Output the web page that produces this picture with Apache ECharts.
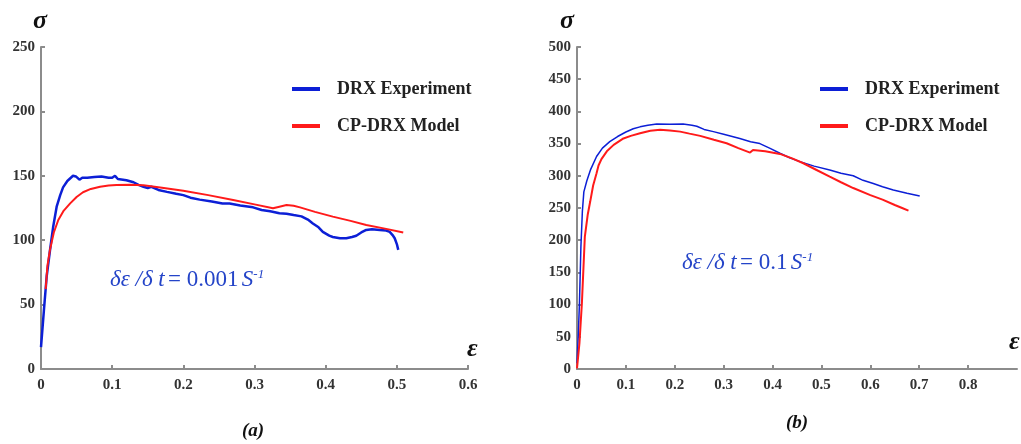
<!DOCTYPE html>
<html>
<head>
<meta charset="utf-8">
<script src="https://cdn.jsdelivr.net/npm/echarts@6/dist/echarts.min.js"></script>
<style>
  html, body { margin: 0; padding: 0; background: #fff; }
  #chart { width: 1021px; height: 444px; }
</style>
</head>
<body>
<div id="chart"></div>
<script>
// (a) strain rate 0.001 s-1 : [strain, stress]
var leftExp = [[0,17],[0.004,45],[0.008,72],[0.0126,92],[0.017,110],[0.022,126],[0.027,135],[0.031,141],[0.037,146],[0.045,150],[0.049,149.5],[0.054,147],[0.058,148.5],[0.065,148.5],[0.075,149],[0.085,149.5],[0.095,148.5],[0.1,148.5],[0.104,150],[0.108,147.5],[0.12,146.5],[0.13,145],[0.137,143],[0.144,141.5],[0.15,140.5],[0.155,141.5],[0.165,139],[0.177,137.5],[0.19,136],[0.2,135],[0.21,133],[0.223,131.5],[0.24,130],[0.255,128.5],[0.265,128.5],[0.28,127],[0.298,125.5],[0.31,123.5],[0.322,122.5],[0.335,121],[0.345,120.5],[0.355,119.5],[0.366,118.5],[0.375,116],[0.382,113],[0.39,110],[0.396,106.5],[0.405,103.5],[0.41,102.5],[0.42,101.5],[0.429,101.5],[0.437,102.5],[0.443,103.5],[0.45,106],[0.457,108],[0.465,108.5],[0.476,108],[0.485,107.5],[0.49,106.5],[0.494,104],[0.497,101.5],[0.5,97],[0.502,92.5]];
var leftModel = [[0.0066,62],[0.009,80],[0.0126,92.5],[0.018,106],[0.0243,115.7],[0.032,123],[0.041,128.6],[0.05,133.5],[0.059,137.2],[0.07,139.8],[0.083,141.5],[0.095,142.4],[0.106,142.8],[0.125,143],[0.144,142.6],[0.17,140.8],[0.2,138.4],[0.235,135],[0.27,131.2],[0.3,127.8],[0.326,124.8],[0.335,126],[0.345,127.3],[0.355,126.8],[0.364,125.5],[0.385,122],[0.41,118.3],[0.435,115],[0.457,111.8],[0.485,108.8],[0.509,105.9]];
// (b) strain rate 0.1 s-1
var rightExp = [[0,9],[0.003,60],[0.005,102],[0.008,190],[0.011,245],[0.014,275],[0.02,292],[0.028,310],[0.04,330],[0.052,343],[0.067,353],[0.083,361],[0.1,368],[0.115,373],[0.129,376],[0.145,378.5],[0.163,380.5],[0.19,380],[0.217,380.5],[0.235,378.5],[0.245,377],[0.26,372],[0.279,368.6],[0.3,364.5],[0.333,358],[0.355,353],[0.374,350],[0.395,342.5],[0.415,335],[0.435,328],[0.456,322],[0.485,315],[0.517,309],[0.54,304],[0.565,300],[0.585,293],[0.606,288],[0.625,283],[0.647,278],[0.675,273],[0.701,268.5]];
var rightModel = [[0,1],[0.005,40],[0.01,102],[0.016,205],[0.022,240],[0.027,260],[0.033,285],[0.04,304],[0.044,316],[0.05,326],[0.061,338],[0.075,348],[0.095,358],[0.11,362],[0.129,366],[0.15,370],[0.17,371.5],[0.19,370.5],[0.211,368.6],[0.23,365.5],[0.252,362],[0.28,356],[0.306,350.5],[0.33,343],[0.354,336],[0.36,340],[0.385,338],[0.415,334],[0.44,327],[0.463,319.5],[0.49,309],[0.517,298.6],[0.54,290],[0.565,281],[0.6,270],[0.625,263],[0.65,254.7],[0.665,250],[0.678,245.8]];

var leftXTicks = [0, 0.1, 0.2, 0.3, 0.4, 0.5, 0.6];
var rightXTicks = [0, 0.1, 0.2, 0.3, 0.4, 0.5, 0.6, 0.7, 0.8];
var seriesNames = ['DRX Experiment', 'CP-DRX Model'];

var SERIF = '"Liberation Serif", "DejaVu Serif", serif';
var BLUE = '#0c1fd6';
var RED = '#ff1a1a';
var TXT_BLUE = '#2444c8';

function xAxisOpt(idx, max, ticks) {
    return {
        type: 'value', gridIndex: idx, min: 0, max: max, interval: 0.1,
        splitLine: {show: false},
        axisLine: {lineStyle: {color: '#8c8c8c', width: 2}},
        axisTick: {inside: true, length: 4, customValues: ticks, lineStyle: {color: '#8c8c8c', width: 2}},
        axisLabel: {customValues: ticks, margin: 9, color: '#333', fontFamily: SERIF, fontWeight: 'bold', fontSize: 15}
    };
}
function yAxisOpt(idx, max) {
    return {
        type: 'value', gridIndex: idx, min: 0, max: max, interval: 50,
        splitLine: {show: false},
        axisLine: {show: true, lineStyle: {color: '#8c8c8c', width: 2}},
        axisTick: {show: true, inside: true, length: 4, lineStyle: {color: '#8c8c8c', width: 2}},
        axisLabel: {margin: 6, color: '#333', fontFamily: SERIF, fontWeight: 'bold', fontSize: 15}
    };
}
function legendOpt(left) {
    return {
        data: seriesNames, orient: 'vertical', left: left, top: 75,
        icon: 'rect', itemWidth: 28, itemHeight: 4, itemGap: 19,
        selectedMode: false,
        textStyle: {fontFamily: SERIF, fontWeight: 'bold', fontSize: 18, color: '#222', padding: [4, 0, 0, 12]}
    };
}
function lineSeries(name, data, idx, color, width) {
    return {
        name: name, type: 'line', data: data, xAxisIndex: idx, yAxisIndex: idx,
        showSymbol: false, symbol: 'none', color: color,
        lineStyle: {color: color, width: width}, animation: false
    };
}
function rateText(x, y, rate) {
    return {
        type: 'text', left: x, top: y,
        style: {
            text: '{i|δε /δ t} {n|= ' + rate + '} {i|S}{s|-1}',
            rich: {
                i: {fontFamily: SERIF, fontStyle: 'italic', fontSize: 23, fill: TXT_BLUE},
                n: {fontFamily: SERIF, fontSize: 23, fill: TXT_BLUE},
                s: {fontFamily: SERIF, fontStyle: 'italic', fontSize: 13, fill: TXT_BLUE, verticalAlign: 'top', padding: [0, 0, 11, 0]}
            }
        }
    };
}
function symText(x, y, t, size) {
    return {
        type: 'text', left: x, top: y,
        style: {text: t, fontFamily: SERIF, fontStyle: 'italic', fontWeight: 'bold', fontSize: size, fill: '#111'}
    };
}

var chart = echarts.init(document.getElementById('chart'));
chart.setOption({
    backgroundColor: '#fff',
    animation: false,
    grid: [
        {left: 41, right: 553, top: 47, bottom: 75},
        {left: 577, right: 4, top: 47, bottom: 75}
    ],
    xAxis: [xAxisOpt(0, 0.6, leftXTicks), xAxisOpt(1, 0.9, rightXTicks)],
    yAxis: [yAxisOpt(0, 250), yAxisOpt(1, 500)],
    legend: [legendOpt(287), legendOpt(815)],
    series: [
        lineSeries(seriesNames[0], leftExp, 0, BLUE, 2.5),
        lineSeries(seriesNames[1], leftModel, 0, RED, 2),
        lineSeries(seriesNames[0], rightExp, 1, BLUE, 1.5),
        lineSeries(seriesNames[1], rightModel, 1, RED, 2)
    ],
    graphic: [
        symText(33, 8, 'σ', 26),
        symText(560, 8, 'σ', 26),
        symText(467, 336, 'ε', 26),
        symText(1009, 329, 'ε', 26),
        rateText(110, 268, '0.001'),
        rateText(682, 251, '0.1'),
        symText(242, 422, '(a)', 19),
        symText(786, 414, '(b)', 19)
    ]
});
</script>
</body>
</html>
